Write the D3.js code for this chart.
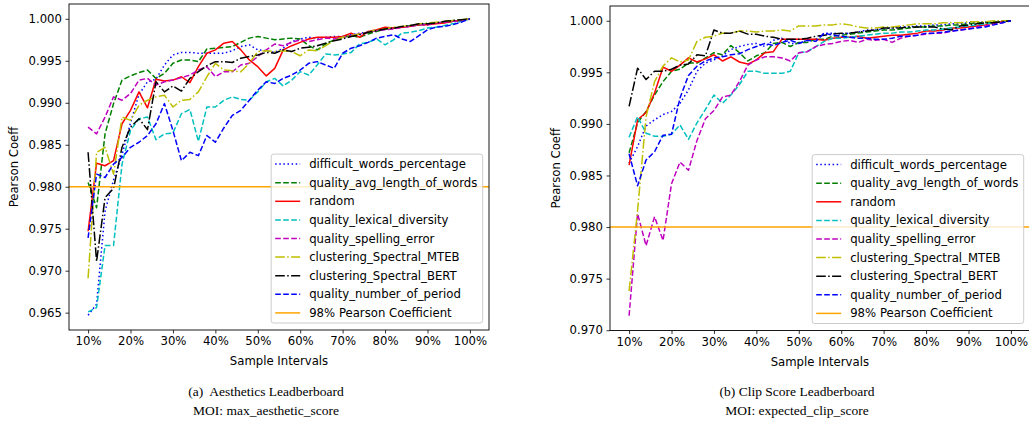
<!DOCTYPE html>
<html>
<head>
<meta charset="utf-8">
<script src="https://cdn.jsdelivr.net/npm/d3@7"></script>
<style>
  html, body { margin: 0; padding: 0; background: #fff; }
  svg { display: block; }
  text { font-family: "DejaVu Sans", sans-serif; fill: #000; }
  .caption { font-family: "Liberation Serif", "Times New Roman", serif; white-space: pre; }
</style>
</head>
<body>
<svg id="fig" width="1029" height="421"></svg>
<script>
// ---------------- DATA ----------------
const samplePcts = [10,12,14,16,18,20,22,24,26,28,30,32,34,36,38,40,42,44,46,48,50,52,54,56,58,60,62,64,66,68,70,72,74,76,78,80,82,84,86,88,90,92,94,96,98,100];
const xTickLabels = ["10%","20%","30%","40%","50%","60%","70%","80%","90%","100%"];
const xTickValues = [10,20,30,40,50,60,70,80,90,100];
const seriesNames = ["difficult_words_percentage","quality_avg_length_of_words","random","quality_lexical_diversity","quality_spelling_error","clustering_Spectral_MTEB","clustering_Spectral_BERT","quality_number_of_period"];
const thresholdLabel = "98% Pearson Coefficient";
const thresholdValue = 0.98;

// (a) Aesthetics Leaderboard
const aesDifficultWords = [0.9647,0.9660,0.9771,0.9808,0.9838,0.9876,0.9910,0.9925,0.9928,0.9945,0.9957,0.9960,0.9960,0.9959,0.9959,0.9959,0.9959,0.9962,0.9967,0.9969,0.9963,0.9962,0.9960,0.9965,0.9973,0.9976,0.9978,0.9977,0.9978,0.9979,0.9979,0.9981,0.9983,0.9984,0.9986,0.9988,0.9989,0.9990,0.9991,0.9993,0.9993,0.9995,0.9996,0.9997,0.9998,1.0];
const aesAvgLength = [0.9805,0.9775,0.9863,0.9899,0.9927,0.9932,0.9936,0.9939,0.9929,0.9935,0.9947,0.9951,0.9951,0.9949,0.9964,0.9965,0.9966,0.9967,0.9972,0.9977,0.9979,0.9977,0.9975,0.9976,0.9977,0.9976,0.9968,0.9963,0.9970,0.9975,0.9978,0.9980,0.9978,0.9982,0.9985,0.9988,0.9989,0.9990,0.9992,0.9993,0.9994,0.9995,0.9996,0.9997,0.9998,1.0];
const aesRandom = [0.9747,0.9828,0.9825,0.9831,0.9875,0.9891,0.9913,0.9894,0.9928,0.9926,0.9927,0.9931,0.9924,0.9943,0.9959,0.9963,0.9971,0.9973,0.9963,0.9951,0.9943,0.9932,0.9941,0.9963,0.9968,0.9972,0.9976,0.9978,0.9978,0.9978,0.9979,0.9983,0.9978,0.9985,0.9987,0.9990,0.9989,0.9990,0.9991,0.9993,0.9993,0.9994,0.9995,0.9997,0.9998,1.0];
const aesLexical = [0.9651,0.9656,0.9730,0.9730,0.9827,0.9867,0.9881,0.9883,0.9856,0.9863,0.9864,0.9887,0.9892,0.9854,0.9895,0.9895,0.9903,0.9907,0.9904,0.9903,0.9913,0.9925,0.9929,0.9920,0.9927,0.9937,0.9933,0.9945,0.9958,0.9957,0.9958,0.9960,0.9970,0.9972,0.9976,0.9969,0.9975,0.9983,0.9984,0.9986,0.9989,0.9990,0.9992,0.9994,0.9997,1.0];
const aesSpelling = [0.9871,0.9863,0.9883,0.9907,0.9903,0.9911,0.9927,0.9929,0.9921,0.9925,0.9927,0.9930,0.9933,0.9939,0.9943,0.9931,0.9937,0.9937,0.9945,0.9947,0.9955,0.9963,0.9970,0.9968,0.9972,0.9975,0.9973,0.9975,0.9977,0.9976,0.9978,0.9980,0.9982,0.9984,0.9986,0.9987,0.9988,0.9990,0.9991,0.9993,0.9993,0.9995,0.9996,0.9997,0.9998,1.0];
const aesMTEB = [0.9691,0.9841,0.9847,0.9815,0.9883,0.9879,0.9897,0.9903,0.9907,0.9909,0.9895,0.9903,0.9904,0.9913,0.9931,0.9947,0.9939,0.9938,0.9937,0.9947,0.9961,0.9962,0.9961,0.9962,0.9961,0.9956,0.9963,0.9962,0.9968,0.9974,0.9978,0.9980,0.9982,0.9984,0.9987,0.9988,0.9990,0.9991,0.9992,0.9994,0.9995,0.9996,0.9997,0.9998,0.9999,1.0];
const aesBERT = [0.9841,0.9711,0.9787,0.9798,0.9847,0.9871,0.9881,0.9868,0.9925,0.9913,0.9920,0.9914,0.9929,0.9937,0.9944,0.9949,0.9949,0.9948,0.9953,0.9955,0.9957,0.9960,0.9959,0.9963,0.9961,0.9965,0.9966,0.9968,0.9971,0.9974,0.9976,0.9979,0.9981,0.9984,0.9986,0.9988,0.9989,0.9991,0.9992,0.9994,0.9994,0.9995,0.9997,0.9998,0.9999,1.0];
const aesNumPeriod = [0.9739,0.9815,0.9811,0.9827,0.9835,0.9847,0.9853,0.9861,0.9875,0.9899,0.9867,0.9831,0.9841,0.9837,0.9861,0.9853,0.9870,0.9885,0.9891,0.9903,0.9915,0.9925,0.9923,0.9929,0.9933,0.9939,0.9947,0.9949,0.9945,0.9941,0.9959,0.9965,0.9968,0.9972,0.9977,0.9979,0.9981,0.9976,0.9973,0.9980,0.9987,0.9990,0.9991,0.9993,0.9996,1.0];

// (b) Clip Score Leaderboard
const clipDifficultWords = [0.9862,0.9878,0.9898,0.9904,0.9909,0.9912,0.9920,0.9933,0.9951,0.9959,0.9962,0.9966,0.9972,0.9975,0.9977,0.9978,0.9975,0.9981,0.9983,0.9978,0.9978,0.9981,0.9982,0.9988,0.9988,0.9987,0.9988,0.9989,0.9991,0.9991,0.9992,0.9993,0.9994,0.9994,0.9995,0.9995,0.9996,0.9996,0.9997,0.9997,0.9998,0.9998,0.9999,0.9999,1.0,1.0];
const clipAvgLength = [0.9872,0.9901,0.9912,0.9928,0.9941,0.9951,0.9953,0.9959,0.9959,0.9964,0.9969,0.9967,0.9976,0.9969,0.9961,0.9966,0.9969,0.9978,0.9979,0.9975,0.9979,0.9979,0.9982,0.9982,0.9985,0.9986,0.9987,0.9988,0.9989,0.9990,0.9991,0.9991,0.9992,0.9993,0.9994,0.9994,0.9995,0.9995,0.9996,0.9996,0.9997,0.9998,0.9998,0.9999,0.9999,1.0];
const clipRandom = [0.9860,0.9904,0.9911,0.9930,0.9955,0.9951,0.9957,0.9964,0.9960,0.9963,0.9967,0.9961,0.9965,0.9960,0.9958,0.9962,0.9969,0.9970,0.9982,0.9982,0.9982,0.9982,0.9982,0.9981,0.9983,0.9984,0.9984,0.9985,0.9983,0.9984,0.9985,0.9986,0.9986,0.9987,0.9988,0.9990,0.9990,0.9991,0.9993,0.9993,0.9994,0.9995,0.9996,0.9998,0.9999,1.0];
const clipLexical = [0.9887,0.9907,0.9891,0.9888,0.9888,0.9890,0.9899,0.9885,0.9901,0.9914,0.9928,0.9920,0.9928,0.9938,0.9951,0.9951,0.9949,0.9949,0.9949,0.9951,0.9969,0.9970,0.9975,0.9980,0.9983,0.9983,0.9984,0.9985,0.9986,0.9987,0.9988,0.9988,0.9989,0.9989,0.9990,0.9991,0.9991,0.9992,0.9993,0.9994,0.9995,0.9996,0.9997,0.9998,0.9999,1.0];
const clipSpelling = [0.9714,0.9813,0.9782,0.9810,0.9787,0.9842,0.9863,0.9855,0.9884,0.9905,0.9913,0.9926,0.9928,0.9941,0.9957,0.9962,0.9965,0.9965,0.9964,0.9961,0.9969,0.9970,0.9975,0.9977,0.9978,0.9980,0.9981,0.9979,0.9982,0.9981,0.9982,0.9979,0.9983,0.9985,0.9986,0.9987,0.9988,0.9988,0.9990,0.9991,0.9992,0.9994,0.9995,0.9997,0.9998,1.0];
const clipMTEB = [0.9738,0.9816,0.9907,0.9941,0.9956,0.9964,0.9960,0.9962,0.9980,0.9984,0.9985,0.9988,0.9988,0.9990,0.9990,0.9989,0.9990,0.9990,0.9991,0.9990,0.9995,0.9995,0.9995,0.9996,0.9996,0.9997,0.9996,0.9994,0.9993,0.9993,0.9994,0.9994,0.9995,0.9996,0.9997,0.9997,0.9997,0.9998,0.9998,0.9998,0.9999,0.9999,0.9999,1.0,1.0,1.0];
const clipBERT = [0.9917,0.9954,0.9943,0.9951,0.9951,0.9953,0.9957,0.9958,0.9967,0.9966,0.9991,0.9988,0.9988,0.9990,0.9987,0.9987,0.9985,0.9984,0.9982,0.9982,0.9982,0.9983,0.9985,0.9986,0.9987,0.9988,0.9988,0.9989,0.9990,0.9991,0.9993,0.9993,0.9993,0.9994,0.9994,0.9994,0.9994,0.9992,0.9991,0.9995,0.9996,0.9997,0.9998,0.9998,0.9999,1.0];
const clipNumPeriod = [0.9871,0.9840,0.9865,0.9873,0.9889,0.9890,0.9925,0.9947,0.9956,0.9961,0.9964,0.9965,0.9967,0.9968,0.9972,0.9975,0.9978,0.9976,0.9979,0.9981,0.9978,0.9981,0.9980,0.9988,0.9986,0.9985,0.9984,0.9983,0.9983,0.9982,0.9982,0.9983,0.9985,0.9985,0.9986,0.9988,0.9988,0.9989,0.9990,0.9991,0.9992,0.9993,0.9994,0.9996,0.9998,1.0];

const aesYTicks = [0.965,0.970,0.975,0.980,0.985,0.990,0.995,1.000];
const clipYTicks = [0.970,0.975,0.980,0.985,0.990,0.995,1.000];

// ---------------- STYLES ----------------
const styles = [
  {color:"#0000ff", dash:"1.5,2.6"},
  {color:"#008000", dash:"5.6,2.4"},
  {color:"#ff0000", dash:null},
  {color:"#00bfbf", dash:"5.6,2.4"},
  {color:"#bf00bf", dash:"5.6,2.4"},
  {color:"#bfbf00", dash:"9.6,2.4,1.5,2.4"},
  {color:"#000000", dash:"9.6,2.4,1.5,2.4"},
  {color:"#0000ff", dash:"5.6,2.4"}
];
const thresholdColor = "#ffa500";

const svg = d3.select("#fig");
const FS = 11.7;

function drawPanel(cfg) {
  const {left, right, top, bottom, series, yTicks, yLabelX, caption1, caption2, captionX, id} = cfg;
  const all = series.flat();
  const mn = d3.min(all), mx = d3.max(all), rg = mx - mn;
  const x = d3.scaleLinear().domain([10 - 0.05*90, 100 + 0.05*90]).range([left, right]);
  const y = d3.scaleLinear().domain([mn - 0.05*rg, mx + 0.05*rg]).range([bottom, top]);

  const g = svg.append("g");
  g.append("clipPath").attr("id", "clip" + id).append("rect")
    .attr("x", left).attr("y", top).attr("width", right - left).attr("height", bottom - top);

  const plot = g.append("g").attr("clip-path", `url(#clip${id})`);
  const line = d3.line().x((d, i) => x(samplePcts[i])).y(d => y(d));
  series.forEach((s, i) => {
    plot.append("path").datum(s).attr("d", line)
      .attr("fill", "none").attr("stroke", styles[i].color).attr("stroke-width", 1.5)
      .attr("stroke-dasharray", styles[i].dash).attr("stroke-linejoin", "round");
  });
  plot.append("line").attr("x1", left).attr("x2", right)
    .attr("y1", y(thresholdValue)).attr("y2", y(thresholdValue))
    .attr("stroke", thresholdColor).attr("stroke-width", 1.5);

  // axes
  const xAxis = d3.axisBottom(x).tickValues(xTickValues).tickFormat((d, i) => xTickLabels[i])
    .tickSize(3.5).tickPadding(3.5);
  const gx = g.append("g").attr("transform", `translate(0,${bottom})`).call(xAxis);
  const yAxis = d3.axisLeft(y).tickValues(yTicks).tickFormat(d3.format(".3f"))
    .tickSize(3.5).tickPadding(3.5);
  const gy = g.append("g").attr("transform", `translate(${left},0)`).call(yAxis);
  [gx, gy].forEach(a => {
    a.select(".domain").remove();
    a.selectAll("text").style("font-size", FS + "px").attr("fill", "#000");
    a.selectAll("line").attr("stroke", "#000").attr("stroke-width", 0.8);
  });

  // frame
  g.append("rect").attr("x", left).attr("y", top).attr("width", right - left).attr("height", bottom - top)
    .attr("fill", "none").attr("stroke", "#000").attr("stroke-width", 0.9);

  // labels
  g.append("text").attr("x", (left + Math.min(right, 1029.7)) / 2).attr("y", bottom + 35)
    .attr("text-anchor", "middle").style("font-size", FS + "px").text("Sample Intervals");
  g.append("text").attr("transform", `translate(${yLabelX},${(top + bottom) / 2}) rotate(-90)`)
    .attr("text-anchor", "middle").attr("dy", "0.35em").style("font-size", FS + "px").text("Pearson Coeff");

  // legend
  const legW = 211.5, rowH = 18.6;
  const legRight = right - 6.3, legBottom = bottom - 7;
  const legH = rowH * 9 + 1.5;
  const legX = legRight - legW, legY = legBottom - legH;
  const lg = g.append("g");
  lg.append("rect").attr("x", legX).attr("y", legY).attr("width", legW).attr("height", legH)
    .attr("rx", 2.5).attr("fill", "#fff").attr("fill-opacity", 0.8)
    .attr("stroke", "#cccccc").attr("stroke-width", 1);
  const entries = seriesNames.map((n, i) => ({name: n, color: styles[i].color, dash: styles[i].dash}))
    .concat([{name: thresholdLabel, color: thresholdColor, dash: null}]);
  entries.forEach((e, i) => {
    const cy = legY + 10 + i * rowH;
    lg.append("line").attr("x1", legX + 4).attr("x2", legX + 29).attr("y1", cy).attr("y2", cy)
      .attr("stroke", e.color).attr("stroke-width", 1.5).attr("stroke-dasharray", e.dash);
    lg.append("text").attr("x", legX + 38).attr("y", cy).attr("dy", "0.35em")
      .style("font-size", FS + "px").text(e.name);
  });

  // captions
  g.append("text").attr("class", "caption").attr("x", captionX).attr("y", 396)
    .attr("text-anchor", "middle").style("font-size", "13.5px").text(caption1);
  g.append("text").attr("class", "caption").attr("x", captionX).attr("y", 415)
    .attr("text-anchor", "middle").style("font-size", "13.5px").text(caption2);
}

drawPanel({
  id: "a", left: 69, right: 489, top: 4, bottom: 330,
  series: [aesDifficultWords, aesAvgLength, aesRandom, aesLexical, aesSpelling, aesMTEB, aesBERT, aesNumPeriod],
  yTicks: aesYTicks, yLabelX: 14,
  caption1: "(a)  Aesthetics Leadberboard", caption2: "MOI: max_aesthetic_score", captionX: 266
});
drawPanel({
  id: "b", left: 610, right: 1030, top: 6, bottom: 330.5,
  series: [clipDifficultWords, clipAvgLength, clipRandom, clipLexical, clipSpelling, clipMTEB, clipBERT, clipNumPeriod],
  yTicks: clipYTicks, yLabelX: 556,
  caption1: "(b) Clip Score Leadberboard", caption2: "MOI: expected_clip_score", captionX: 797
});
</script>
</body>
</html>
